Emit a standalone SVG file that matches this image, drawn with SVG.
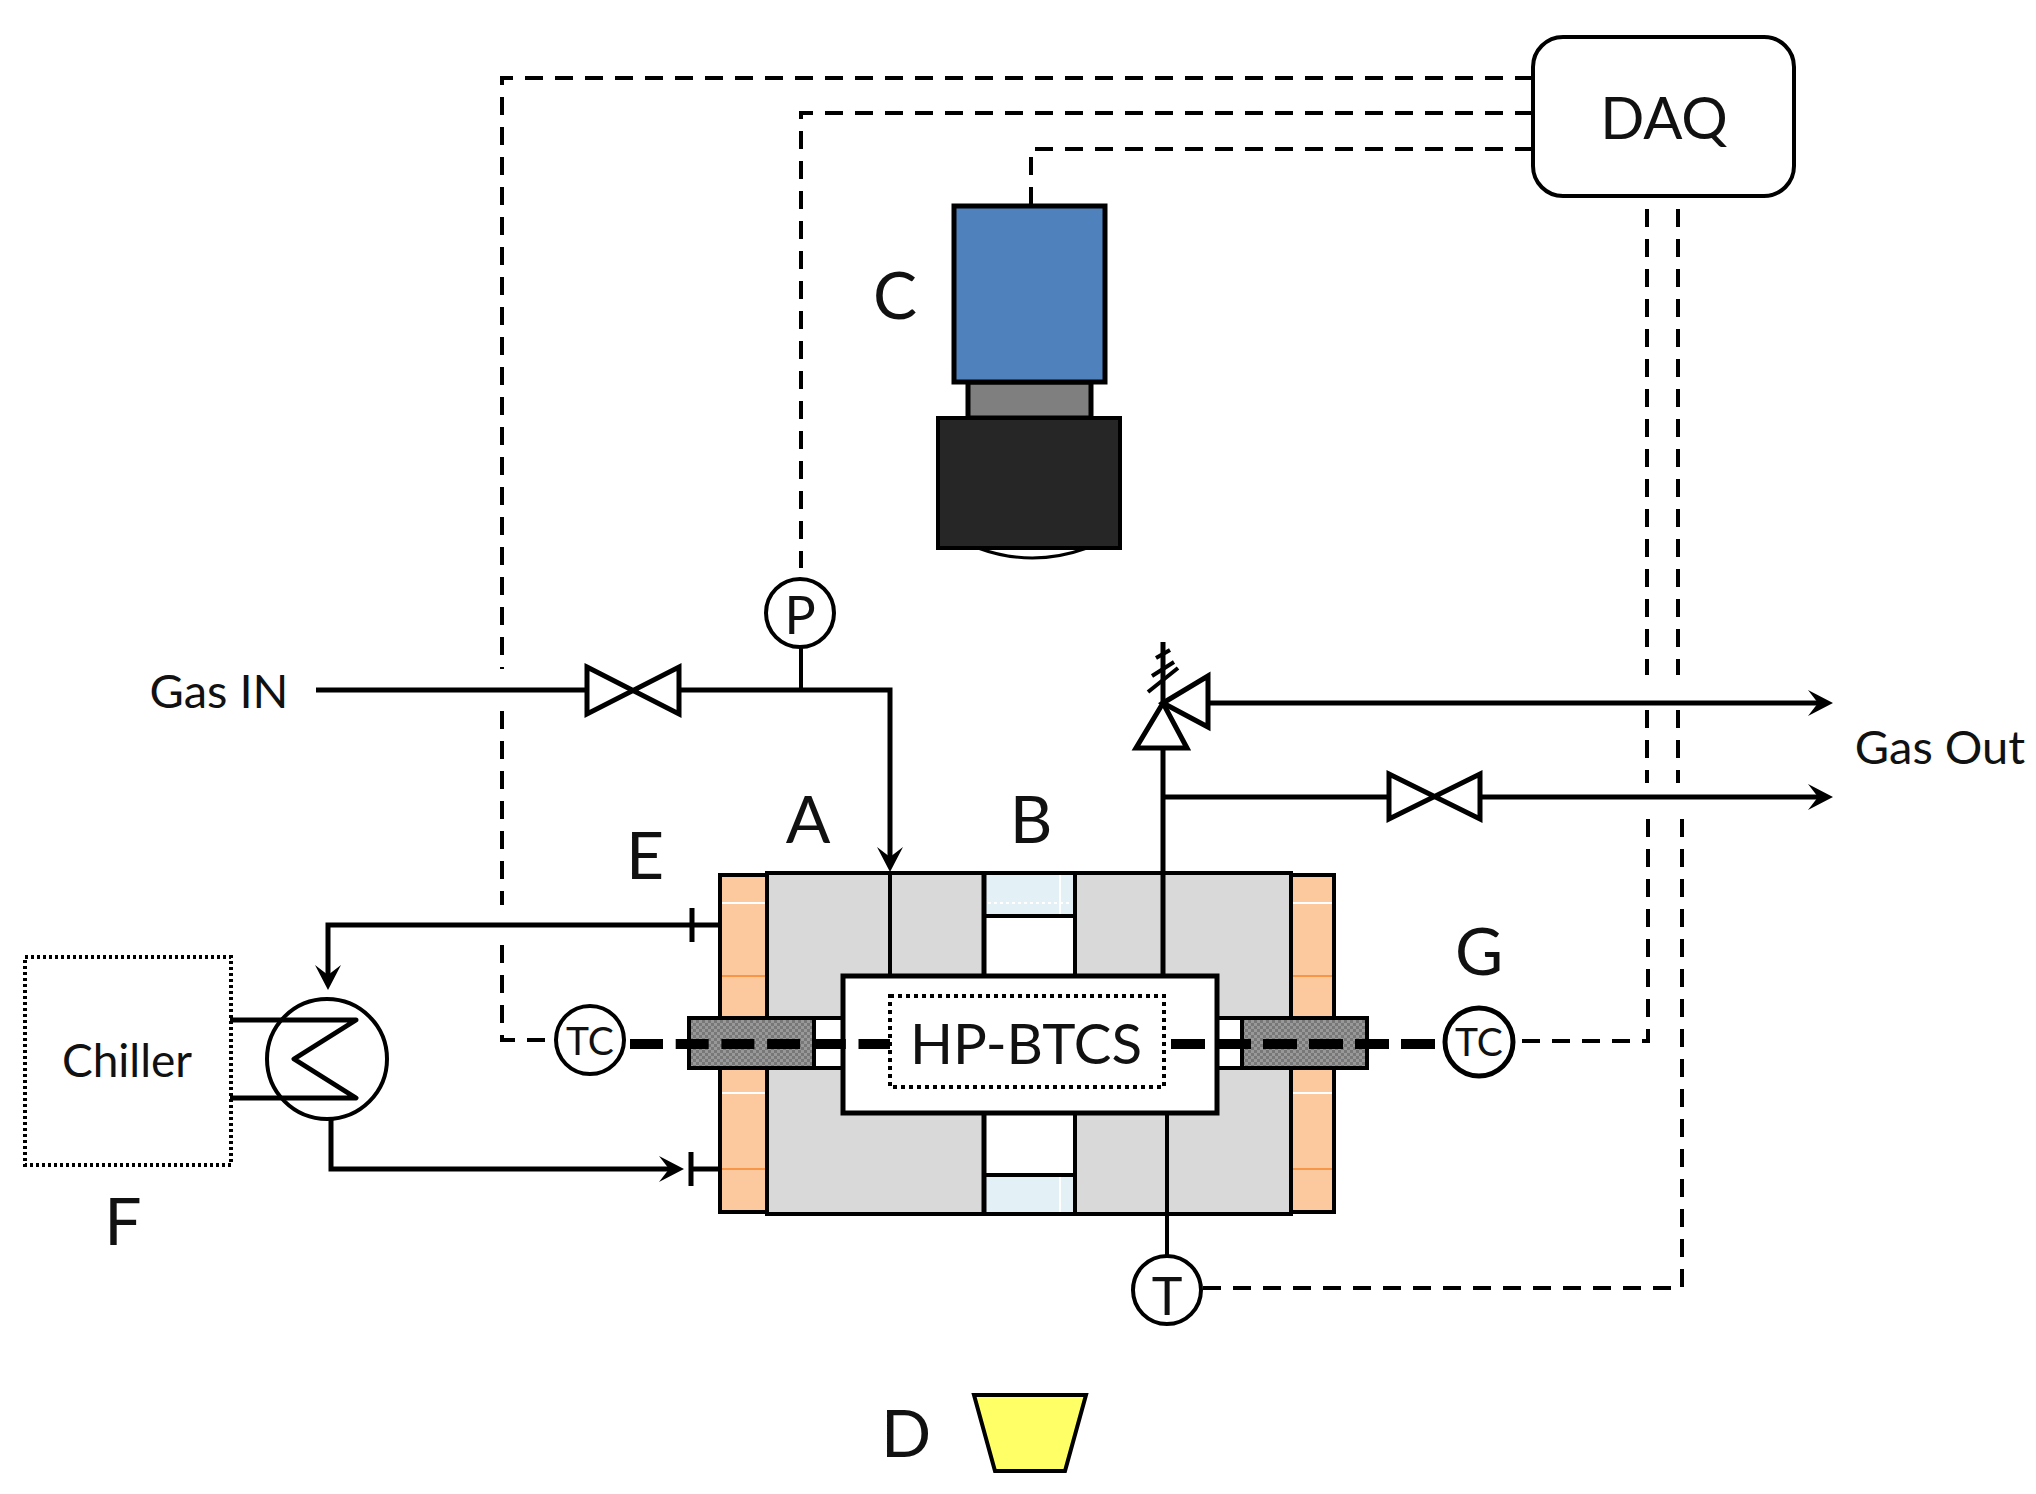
<svg xmlns="http://www.w3.org/2000/svg" width="2036" height="1494" viewBox="0 0 2036 1494">
<style>
text{font-family:Lato,"Liberation Sans",sans-serif;fill:#111;text-anchor:middle}
.lab{font-size:66px}
.gas{font-size:47px}
.ins{font-size:39px}
.ins2{font-size:52px}
.s{fill:none;stroke:#000;stroke-width:5}
.t{fill:none;stroke:#000;stroke-width:4}
.d{fill:none;stroke:#000;stroke-width:4;stroke-dasharray:18 12}
.tc{fill:none;stroke:#000;stroke-width:10;stroke-dasharray:33 12.7}
.box{stroke:#000;stroke-width:4}
.v{fill:#fff;stroke:#000;stroke-width:5;stroke-linejoin:miter}
.mw{stroke:#fff;stroke-width:2;fill:none}
.mo{stroke:#f79646;stroke-width:2;fill:none}
</style>
<defs>
<pattern id="hatch" width="6" height="6" patternUnits="userSpaceOnUse">
<rect width="6" height="6" fill="#989898"/><rect width="3" height="3" fill="#787878"/><rect x="3" y="3" width="3" height="3" fill="#787878"/>
</pattern>
<marker id="arrow" markerUnits="userSpaceOnUse" markerWidth="28" markerHeight="28" viewBox="0 0 28 28" refX="14" refY="14" orient="auto">
<path d="M26 14 L1 1 L11 14 L1 27 Z" fill="#000"/>
</marker>
</defs>
<rect width="2036" height="1494" fill="#fff"/>

<g id="connectors">
<path class="d" d="M1533 78 H502 V669"/>
<path class="d" d="M502 711 V905"/>
<path class="d" d="M502 945 V1040 H556"/>
<path class="d" d="M1533 113 H801 V568"/>
<path class="d" d="M1533 149 H1031 V204"/>
<path class="d" d="M1647 209 V675"/>
<path class="d" d="M1647 710 V783"/>
<path class="d" d="M1648 819 V1041 H1516"/>
<path class="d" d="M1678 209 V675"/>
<path class="d" d="M1678 710 V783"/>
<path class="d" d="M1682 819 V1288 H1203"/>
<path class="s" d="M316 690 H586"/>
<path class="s" d="M680 690 H890 V860" marker-end="url(#arrow)"/>
<path class="t" d="M801 648 V690"/>
<path class="s" d="M1208 703 H1821" marker-end="url(#arrow)"/>
<path class="s" d="M1163 748 V976"/>
<path class="s" d="M1163 797 H1388"/>
<path class="s" d="M1480 797 H1821" marker-end="url(#arrow)"/>
<path class="s" d="M720 925 H328 V978" marker-end="url(#arrow)"/>
<path class="s" d="M331 1119 V1169 H672" marker-end="url(#arrow)"/>
<path class="s" d="M691 1169 H720"/>
<path class="t" d="M692 908 V942 M691 1152 V1186" style="stroke-width:5"/>
<path class="s" d="M230 1020 H356 L294 1059 L356 1098 H230" style="stroke-linejoin:round"/>
</g>

<g id="heater-left">
<rect class="box" x="720" y="875" width="47" height="337" fill="#fbc99d"/>
<path class="mw" d="M722 903 H765 M722 1093 H765"/>
<path class="mo" d="M722 976 H765 M722 1169 H765"/>
</g>
<g id="heater-right">
<rect class="box" x="1291" y="875" width="43" height="337" fill="#fbc99d"/>
<path class="mw" d="M1293 903 H1332 M1293 1093 H1332"/>
<path class="mo" d="M1293 976 H1332 M1293 1169 H1332"/>
</g>

<g id="cell-body">
<rect class="box" x="767" y="873" width="524" height="341" fill="#d9d9d9"/>
<rect x="984" y="873" width="91" height="341" fill="#fff"/>
<rect x="984" y="873" width="91" height="43" fill="#e3f0f6"/>
<rect x="984" y="1175" width="91" height="39" fill="#e3f0f6"/>
<path class="mw" d="M1060 875 V914 M1060 1177 V1212"/>
<path d="M988 903 H1071" stroke="#fff" stroke-width="2" stroke-dasharray="3 3" fill="none"/>
<path class="s" d="M984 873 V976 M984 1113 V1214"/>
<path class="t" d="M1075 873 V976 M1075 1113 V1214 M984 916 H1075 M984 1175 H1075"/>
<path class="box" d="M767 873 H1291 M767 1214 H1291" fill="none"/>
<path class="t" d="M890 873 V976"/>
<path class="s" d="M1163 873 V976"/>
<path class="t" d="M1167 1113 V1255"/>
</g>

<g id="feedthrough-left">
<rect class="box" x="814" y="1018" width="40" height="50" fill="#fff"/>
<rect class="box" x="689" y="1018" width="125" height="50" fill="url(#hatch)"/>
</g>
<g id="feedthrough-right">
<rect class="box" x="1205" y="1018" width="37" height="50" fill="#fff"/>
<rect class="box" x="1242" y="1018" width="125" height="50" fill="url(#hatch)"/>
</g>

<g id="hp-btcs">
<rect x="843" y="976" width="374" height="137" fill="#fff" stroke="#000" stroke-width="5"/>
<rect x="890" y="996" width="274" height="91" fill="none" stroke="#000" stroke-width="4" stroke-dasharray="4 4"/>
<text x="1026" y="1064" font-size="57" textLength="232" lengthAdjust="spacingAndGlyphs">HP-BTCS</text>
</g>

<g id="thermocouple-lines">
<path class="tc" d="M630 1044 H890"/>
<path class="tc" d="M1171 1044 H1436" style="stroke-dasharray:34 12"/>
</g>

<g id="daq">
<rect x="1533" y="37" width="261" height="159" rx="30" ry="30" fill="#fff" stroke="#000" stroke-width="4"/>
<text x="1664" y="139" font-size="58">DAQ</text>
</g>

<g id="camera">
<path d="M978 548 Q1032 568 1087 548 Z" fill="#fff" stroke="#000" stroke-width="3"/>
<rect x="968" y="382" width="123" height="36" fill="#7f7f7f" stroke="#000" stroke-width="5"/>
<rect x="954" y="206" width="151" height="176" fill="#4f81bd" stroke="#000" stroke-width="5"/>
<rect x="938" y="418" width="182" height="130" fill="#262626" stroke="#000" stroke-width="4"/>
<text class="lab" x="895" y="319">C</text>
</g>

<g id="valve-in"><path class="v" d="M587 667 L679 714 V667 L587 714 Z"/></g>
<g id="valve-out"><path class="v" d="M1389 774 L1480 819 V774 L1389 819 Z"/></g>

<g id="relief-valve">
<path class="v" d="M1163 703 L1136 748 H1187 Z"/>
<path class="v" d="M1163 703 L1208 676 V727 Z"/>
<path class="s" d="M1163 703 V642"/>
<path class="t" d="M1148 692 L1178 668 M1152 676 L1174 662 M1156 658 L1170 650"/>
</g>

<g id="gauge-p">
<circle class="t" style="fill:#fff" cx="800" cy="613" r="34"/>
<text class="ins2" x="800" y="634">P</text>
</g>
<g id="gauge-t">
<circle class="t" style="fill:#fff" cx="1167" cy="1290" r="34"/>
<text class="ins2" x="1167" y="1315">T</text>
</g>
<g id="tc-left">
<circle class="t" style="fill:#fff" cx="590" cy="1040" r="34"/>
<text class="ins" x="590" y="1055">TC</text>
</g>
<g id="tc-right">
<circle class="t" style="fill:#fff;stroke-width:5" cx="1479" cy="1042" r="34"/>
<text class="ins" x="1479" y="1056">TC</text>
</g>

<g id="chiller">
<rect x="25" y="957" width="206" height="208" fill="none" stroke="#000" stroke-width="4" stroke-dasharray="3 3"/>
<text x="127" y="1077" font-size="46">Chiller</text>
</g>
<g id="heat-exchanger">
<ellipse class="t" cx="327" cy="1059" rx="60" ry="60"/>
</g>

<g id="lamp">
<path d="M974 1395 H1086 L1065 1471 H995 Z" fill="#ffff66" stroke="#000" stroke-width="4"/>
</g>

<g id="labels">
<text class="lab" x="808" y="843">A</text>
<text class="lab" x="1031" y="843">B</text>
<text class="lab" x="906" y="1457">D</text>
<text class="lab" x="645" y="879">E</text>
<text class="lab" x="123" y="1245">F</text>
<text class="lab" x="1479" y="975">G</text>
<text class="gas" x="219" y="708">Gas IN</text>
<text class="gas" x="1940" y="764">Gas Out</text>
</g>
</svg>
